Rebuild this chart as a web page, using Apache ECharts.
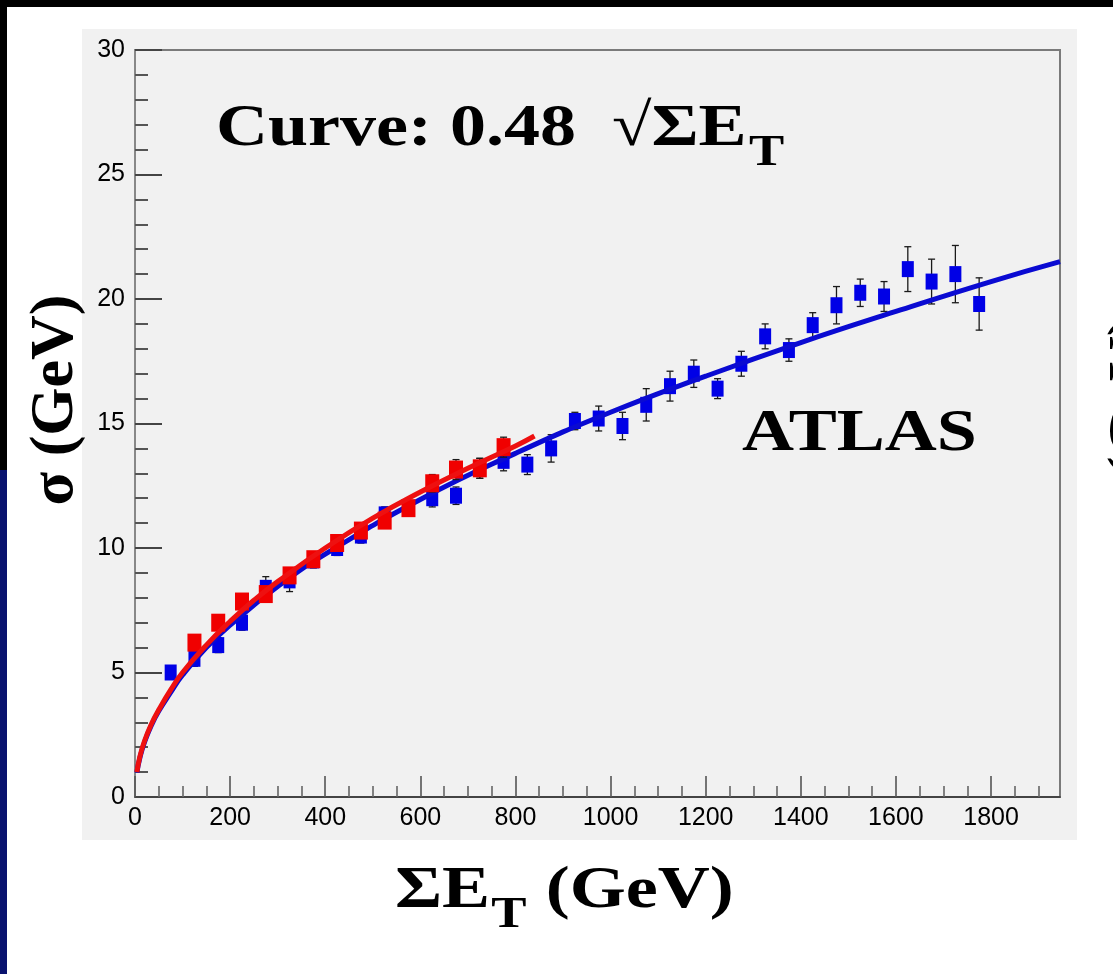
<!DOCTYPE html>
<html>
<head>
<meta charset="utf-8">
<script src="https://cdn.jsdelivr.net/npm/echarts@6/dist/echarts.min.js"></script>
<style>
html,body{margin:0;padding:0;background:#000;}
#c{width:1113px;height:974px;}
</style>
</head>
<body>
<div id="c"></div>
<script>
// ---- data ----
const blueX = [75,125,175,225,275,325,375,425,475,525,575,625,675,725,775,825,875,925,975,1025,1075,1125,1175,1225,1275,1325,1375,1425,1475,1525,1575,1625,1675,1725,1775];
const blueY = [5.0,5.55,6.1,7.0,8.4,8.7,9.5,10.0,10.5,11.35,11.6,12.0,12.1,13.2,13.5,13.35,14.0,15.1,15.2,14.9,15.75,16.5,17.0,16.4,17.4,18.5,17.95,18.95,19.75,20.25,20.1,21.2,20.7,21.0,19.8];
const blueErr = [0.25,0.3,0.3,0.3,0.45,0.45,0.3,0.3,0.3,0.3,0.3,0.35,0.35,0.4,0.4,0.4,0.55,0.35,0.5,0.55,0.65,0.6,0.55,0.4,0.5,0.5,0.45,0.5,0.75,0.55,0.6,0.9,0.9,1.15,1.05];

const redX = [125,175,225,275,325,375,425,475,525,575,625,675,725,775];
const redY = [6.2,7.0,7.85,8.15,8.9,9.55,10.2,10.7,11.1,11.6,12.6,13.15,13.2,14.05];
const redErr = [0.3,0.3,0.3,0.3,0.3,0.3,0.3,0.3,0.3,0.3,0.35,0.4,0.4,0.4];

const blueCurveX = [4,10,20,35,50,75,100,150,200,300,400,600,800,1000,1200,1400,1600,1800,1945];
const blueCurveY = [0.98,1.55,2.2,2.9,3.45,4.2,4.9,6.0,6.9,8.45,9.75,11.95,13.8,15.45,16.9,18.25,19.5,20.7,21.5];
const redCurveX = [4,10,20,35,50,75,100,150,200,250,300,400,500,600,700,800,840];
const redCurveY = [1.0,1.6,2.25,2.95,3.5,4.3,5.0,6.1,7.05,7.9,8.65,10.0,11.2,12.25,13.2,14.1,14.5];

const xMajorTicks = [0,200,400,600,800,1000,1200,1400,1600,1800];
const xMinorTicks = [50,100,150,250,300,350,450,500,550,650,700,750,850,900,950,1050,1100,1150,1250,1300,1350,1450,1500,1550,1650,1700,1750,1850,1900];
const yTicks = [0,5,10,15,20,25,30];

const titleText = 'Curve: 0.48  √ΣE';
const titleSub = 'T';
const xTitleMain = 'ΣE';
const xTitleSub = 'T';
const xTitleRest = ' (GeV)';
const yTitle = 'σ (GeV)';
const expText = 'ATLAS';

// ---- layout helpers ----
const SERIF = 'Liberation Serif';
const SANS = 'Liberation Sans';
const mctx = document.createElement('canvas').getContext('2d');
function tw(t, size){ mctx.font = 'bold ' + size + 'px "' + SERIF + '"'; return mctx.measureText(t).width; }
function serifText(t, x, baseline, size, extra){
  return Object.assign({
    type:'text', x:x, y: baseline - 0.3375*size, z:50,
    style:{text:t, fill:'#000', fontFamily:SERIF, fontWeight:'bold', fontSize:size,
      textAlign:'left', align:'left', textVerticalAlign:'middle', verticalAlign:'middle'}
  }, extra || {});
}
const SX = 1.2;

const chart = echarts.init(document.getElementById('c'), null, {renderer:'canvas'});

function errBars(xs, ys, es){ return xs.map((x,i)=>[x, ys[i], es[i]]); }
function errRender(params, api){
  const x = api.value(0), y = api.value(1), e = api.value(2);
  const p1 = api.coord([x, y + e]), p2 = api.coord([x, y - e]);
  const c = 3.5;
  const st = {stroke:'#1a1a1a', lineWidth:1.3};
  return {type:'group', children:[
    {type:'line', shape:{x1:p1[0], y1:p1[1], x2:p2[0], y2:p2[1]}, style:st},
    {type:'line', shape:{x1:p1[0]-c, y1:p1[1], x2:p1[0]+c, y2:p1[1]}, style:st},
    {type:'line', shape:{x1:p2[0]-c, y1:p2[1], x2:p2[0]+c, y2:p2[1]}, style:st}
  ]};
}

const titleW = tw(titleText, 60);
const xMainW = tw(xTitleMain, 60);
const xSubW = tw(xTitleSub, 44);

function rotText(t, x, y){
  return {type:'text', x:x, y:y, rotation:Math.PI/2, z:50,
    style:{text:t, fill:'#000', fontFamily:SERIF, fontWeight:'bold', fontSize:62,
      textAlign:'center', align:'center', textVerticalAlign:'middle', verticalAlign:'middle'}};
}

const option = {
  animation:false,
  backgroundColor:'#000',
  graphic:[
    {type:'rect', z:-30, shape:{x:7, y:7, width:1106, height:967}, style:{fill:'#ffffff'}},
    {type:'rect', z:-30, shape:{x:0, y:470, width:7, height:504}, style:{fill:'#08126e'}},
    {type:'rect', z:-20, shape:{x:82, y:29, width:995, height:811}, style:{fill:'#f1f1f1'}},
    {type:'group', x:216, y:0, scaleX:SX, z:50, children:[
      serifText(titleText, 0, 150, 60),
      serifText(titleSub, titleW + 2, 168, 44)
    ]},
    {type:'group', x:742, y:0, scaleX:SX, z:50, children:[
      serifText(expText, 0, 455, 60)
    ]},
    {type:'group', x:395, y:0, scaleX:SX, z:50, children:[
      serifText(xTitleMain, 0, 912, 60),
      serifText(xTitleSub, xMainW + 1, 930, 44),
      serifText(xTitleRest, xMainW + xSubW + 2, 912, 60)
    ]},
    rotText(yTitle, 56, 400),
    rotText(yTitle, 1134, 421)
  ],
  grid:{left:135, top:50, width:925, height:747, show:true, borderColor:'#7a7a7a', borderWidth:2, backgroundColor:'transparent'},
  xAxis:[
    {type:'value', min:0, max:1945, position:'bottom',
      axisLine:{show:true, onZero:false, lineStyle:{color:'#333', width:1.6}},
      axisTick:{show:true, inside:true, length:21, customValues:xMajorTicks, lineStyle:{color:'#555', width:1.6}},
      axisLabel:{show:true, customValues:xMajorTicks, formatter:v=>String(v), fontSize:25, fontFamily:SANS, color:'#000', margin:9},
      splitLine:{show:false}},
    {type:'value', min:0, max:1945, position:'bottom',
      axisLine:{show:false},
      axisTick:{show:true, inside:true, length:11, customValues:xMinorTicks, lineStyle:{color:'#666', width:1.6}},
      axisLabel:{show:false},
      splitLine:{show:false}}
  ],
  yAxis:{type:'value', min:0, max:30, interval:5,
    axisLine:{show:true, onZero:false, lineStyle:{color:'#888', width:2}},
    axisTick:{show:true, inside:true, length:27, customValues:yTicks, lineStyle:{color:'#444', width:2}},
    minorTick:{show:true, splitNumber:5, length:13, lineStyle:{color:'#555', width:2}},
    axisLabel:{formatter:v=>String(v), fontSize:25, fontFamily:SANS, color:'#000', margin:10},
    splitLine:{show:false}, minorSplitLine:{show:false}},
  series:[
    {type:'custom', xAxisIndex:0, renderItem:errRender, data:errBars(blueX, blueY, blueErr), clip:false, z:3},
    {type:'scatter', xAxisIndex:0, symbol:'rect', symbolSize:[12,16], itemStyle:{color:'#0000e6', opacity:1},
      data:blueX.map((x,i)=>[x, blueY[i]]), z:4},
    {type:'line', xAxisIndex:0, smooth:0.5, showSymbol:false, symbol:'none',
      lineStyle:{color:'#0a0ad2', width:5}, data:blueCurveX.map((x,i)=>[x, blueCurveY[i]]), z:5},
    {type:'custom', xAxisIndex:0, renderItem:errRender, data:errBars(redX, redY, redErr), clip:false, z:6},
    {type:'scatter', xAxisIndex:0, symbol:'rect', symbolSize:[14,18], itemStyle:{color:'#f00000', opacity:1},
      data:redX.map((x,i)=>[x, redY[i]]), z:7},
    {type:'line', xAxisIndex:0, smooth:0.5, showSymbol:false, symbol:'none',
      lineStyle:{color:'#ee1010', width:5}, data:redCurveX.map((x,i)=>[x, redCurveY[i]]), z:8}
  ]
};
chart.setOption(option);
</script>
</body>
</html>
